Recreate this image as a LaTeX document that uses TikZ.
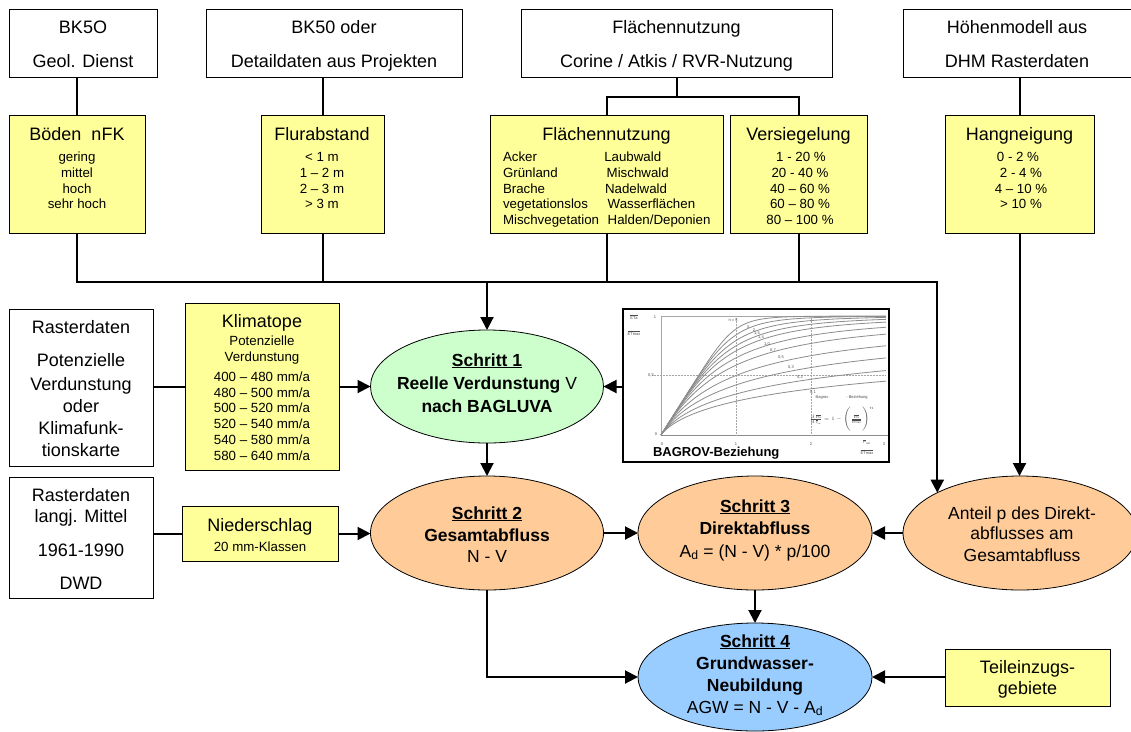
\documentclass[tikz,border=0pt]{standalone}
\usepackage{fontspec}
\setmainfont{Liberation Sans}
\usetikzlibrary{arrows.meta,shapes.geometric}
\definecolor{yel}{HTML}{FFFF99}
\definecolor{grn}{HTML}{CCFFCC}
\definecolor{pch}{HTML}{FFCC99}
\definecolor{blu}{HTML}{99CCFF}
\newcommand\FBig{\fontsize{18}{20}\selectfont}
\newcommand\FSmall{\fontsize{13.3}{15}\selectfont}
\newcommand\FEll{\fontsize{17.5}{20}\selectfont}
\newcommand\FTiny{\fontsize{4}{5}\selectfont}
\begin{document}
\begin{tikzpicture}[x=1pt,y=-1pt,line join=miter,
  box/.style={draw=black,line width=0.8pt,inner sep=0pt,outer sep=0pt,rectangle},
  wbox/.style={box,fill=white},
  ybox/.style={box,fill=yel},
  ell/.style={ellipse,draw=black,line width=0.8pt,inner sep=0pt,outer sep=0pt},
  conn/.style={line width=2pt},
  arr/.style={conn,-{Triangle[length=13pt,width=13pt]}},
  tx/.style={anchor=base,inner sep=0pt,outer sep=0pt},
  txl/.style={anchor=base west,inner sep=0pt,outer sep=0pt},
  tiny/.style={inner sep=0pt,outer sep=0pt,font=\FTiny,text=black!70}]
\useasboundingbox (0,0) rectangle (1131,731);

% ---------- boxes ----------
\node[wbox,minimum width=148pt,minimum height=68pt] (bk5o) at (83,43) {};
\node[wbox,minimum width=256pt,minimum height=68pt] (bk50) at (334,43) {};
\node[wbox,minimum width=311pt,minimum height=68pt] (flaetop) at (676.5,43) {};
\node[wbox,minimum width=232pt,minimum height=68pt] (hoehe) at (1019,43) {};

\node[ybox,minimum width=136pt,minimum height=118pt] (boeden) at (77,174) {};
\node[ybox,minimum width=123pt,minimum height=118pt] (flur) at (322.5,174) {};
\node[ybox,minimum width=233pt,minimum height=118pt] (flae) at (606.5,174) {};
\node[ybox,minimum width=137pt,minimum height=118pt] (vers) at (798.5,174) {};
\node[ybox,minimum width=149pt,minimum height=118pt] (hang) at (1019.5,174) {};

\node[wbox,minimum width=144pt,minimum height=157pt] (ras1) at (81,387.5) {};
\node[ybox,minimum width=154pt,minimum height=167pt] (klima) at (262,386.5) {};
\node[wbox,minimum width=144pt,minimum height=121pt] (ras2) at (81,537.5) {};
\node[ybox,minimum width=156pt,minimum height=55pt] (nied) at (260,533.5) {};
\node[ybox,minimum width=165pt,minimum height=57pt] (teil) at (1027.5,677.5) {};
\node[box,fill=white,line width=2pt,minimum width=266pt,minimum height=153pt] (bagrov) at (756,385.5) {};

% ---------- ellipses ----------
\node[ell,fill=grn,minimum width=233pt,minimum height=113pt] (s1) at (487,386.5) {};
\node[ell,fill=pch,minimum width=233pt,minimum height=114pt] (s2) at (487,533) {};
\node[ell,fill=pch,minimum width=234pt,minimum height=114pt] (s3) at (755,533) {};
\node[ell,fill=pch,minimum width=234pt,minimum height=114pt] (ant) at (1020,533) {};
\node[ell,fill=blu,minimum width=234pt,minimum height=108pt] (s4) at (755,677) {};

% ---------- texts of top boxes ----------
\node[tx] (bk5oa) at (83,33) {\FBig BK5O};
\node[tx] (bk5ob) at (83,67) {\FBig Geol. Dienst};
\node[tx] (bk50a) at (334,33) {\FBig BK50 oder};
\node[tx] (bk50b) at (334,67) {\FBig Detaildaten aus Projekten};
\node[tx] (flta) at (676.5,33) {\FBig Flächennutzung};
\node[tx] (fltb) at (676.5,67) {\FBig Corine / Atkis / RVR-Nutzung};
\node[tx] (hoa) at (1017,33) {\FBig Höhenmodell aus};
\node[tx] (hob) at (1017,67) {\FBig DHM Rasterdaten};

% ---------- yellow boxes ----------
\node[tx] (boa) at (77,140) {\FBig Böden~~nFK};
\node[tx] (bo1) at (77,161) {\FSmall gering};
\node[tx] (bo2) at (77,177) {\FSmall mittel};
\node[tx] (bo3) at (77,193) {\FSmall hoch};
\node[tx] (bo4) at (77,208) {\FSmall sehr hoch};

\node[tx] (fua) at (322,140) {\FBig Flurabstand};
\node[tx] (fu1) at (322,161) {\FSmall < 1 m};
\node[tx] (fu2) at (322,177) {\FSmall 1 – 2 m};
\node[tx] (fu3) at (322,193) {\FSmall 2 – 3 m};
\node[tx] (fu4) at (322,208) {\FSmall > 3 m};

\node[tx] (fna) at (606.5,140) {\FBig Flächennutzung};
\node[txl] (fn1) at (503,161) {\FSmall Acker};
\node[txl] (fn2) at (503,177) {\FSmall Grünland};
\node[txl] (fn3) at (503,193) {\FSmall Brache};
\node[txl] (fn4) at (503,208) {\FSmall vegetationslos};
\node[txl] (fn5) at (503,224) {\FSmall Mischvegetation};
\node[txl] (fn6) at (604.3,161) {\FSmall Laubwald};
\node[txl] (fn7) at (606.7,177) {\FSmall Mischwald};
\node[txl] (fn8) at (605,193) {\FSmall Nadelwald};
\node[txl] (fn9) at (607.7,208) {\FSmall Wasserflächen};
\node[txl] (fn10) at (607.7,224) {\FSmall Halden/Deponien};

\node[tx] (vea) at (798.5,140) {\FBig Versiegelung};
\node[tx] (ve1) at (801,161) {\FSmall 1 - 20 \%};
\node[tx] (ve2) at (800,177) {\FSmall 20 - 40 \%};
\node[tx] (ve3) at (800,193) {\FSmall 40 – 60 \%};
\node[tx] (ve4) at (800,208) {\FSmall 60 – 80 \%};
\node[tx] (ve5) at (800,224) {\FSmall 80 – 100 \%};

\node[tx] (haa) at (1019.5,140) {\FBig Hangneigung};
\node[tx] (ha1) at (1018,161) {\FSmall 0 - 2 \%};
\node[tx] (ha2) at (1021,177) {\FSmall 2 - 4 \%};
\node[tx] (ha3) at (1021,193) {\FSmall 4 – 10 \%};
\node[tx] (ha4) at (1021,208) {\FSmall > 10 \%};

% ---------- left column ----------
\node[tx] (r1a) at (81,333) {\FBig Rasterdaten};
\node[tx] (r1b) at (81,366) {\FBig Potenzielle};
\node[tx] (r1c) at (81,390) {\FBig Verdunstung};
\node[tx] (r1d) at (81,412) {\FBig oder};
\node[tx] (r1e) at (81,434) {\FBig Klimafunk-};
\node[tx] (r1f) at (81,456) {\FBig tionskarte};

\node[tx] (kla) at (262,327) {\FBig Klimatope};
\node[tx] (klb) at (262,345) {\FSmall Potenzielle};
\node[tx] (klc) at (262,361) {\FSmall Verdunstung};
\node[tx] (kl1) at (262,381) {\FSmall 400 – 480 mm/a};
\node[tx] (kl2) at (262,397) {\FSmall 480 – 500 mm/a};
\node[tx] (kl3) at (262,412) {\FSmall 500 – 520 mm/a};
\node[tx] (kl4) at (262,428) {\FSmall 520 – 540 mm/a};
\node[tx] (kl5) at (262,444) {\FSmall 540 – 580 mm/a};
\node[tx] (kl6) at (262,460) {\FSmall 580 – 640 mm/a};

\node[tx] (r2a) at (81,501) {\FBig Rasterdaten};
\node[tx] (r2b) at (81,522) {\FBig langj. Mittel};
\node[tx] (r2c) at (81,556) {\FBig 1961-1990};
\node[tx] (r2d) at (81,589) {\FBig DWD};

\node[tx] (nia) at (260,531) {\FBig Niederschlag};
\node[tx] (nib) at (260,551) {\FSmall 20 mm-Klassen};

\node[tx] (tea) at (1027.5,673) {\FBig Teileinzugs-};
\node[tx] (teb) at (1027.5,694) {\FBig gebiete};

% ---------- ellipse texts ----------
\node[tx] (s1a) at (487,366) {\FEll\bfseries\underline{Schritt 1}};
\node[tx] (s1b) at (487,389) {\FEll\bfseries Reelle Verdunstung \mdseries V};
\node[tx] (s1c) at (487,412) {\FEll\bfseries nach BAGLUVA};

\node[tx] (s2a) at (487,519) {\FEll\bfseries\underline{Schritt 2}};
\node[tx] (s2b) at (487,541) {\FEll\bfseries Gesamtabfluss};
\node[tx] (s2c) at (487,562) {\FEll N - V};

\node[tx] (s3a) at (755,512) {\FEll\bfseries\underline{Schritt 3}};
\node[tx] (s3b) at (755,534) {\FEll\bfseries Direktabfluss};
\node[tx] (s3c) at (755,557) {\FEll A\textsubscript{d} = (N - V) * p/100};

\node[tx] (ana) at (1022,519) {\FEll Anteil p des Direkt-};
\node[tx] (anb) at (1022,539) {\FEll abflusses am};
\node[tx] (anc) at (1022,561) {\FEll Gesamtabfluss};

\node[tx] (s4a) at (755,647) {\FEll\bfseries\underline{Schritt 4}};
\node[tx] (s4b) at (755,669) {\FEll\bfseries Grundwasser-};
\node[tx] (s4c) at (755,691) {\FEll\bfseries Neubildung};
\node[tx] (s4d) at (755,713) {\FEll AGW = N - V - A\textsubscript{d}};

% ---------- BAGROV chart ----------
\begin{scope}[shift={(661,435)},x=75pt,y=119pt]
  \draw[black!35,line width=0.5pt] (0,0) -- (0,1) -- (3,1);
  \draw[black!45,line width=0.6pt] (0,0) -- (3.02,0);
  \draw[black!35,line width=0.5pt,densely dotted] (1,0) -- (1,1) (2,0) -- (2,1) (-0.12,0.5) -- (3,0.5);
  \foreach \m in {6,4,3,2.4,2,1.6,1.3,1,0.8,0.65,0.55}
    \draw[black!45,line width=0.8pt] (0,0) -- plot[domain=0.02:3,samples=45,smooth] (\x,{\x/(1+\x^\m)^(1/\m)});
\end{scope}
\node[tiny] (cy1) at (655,317) {1};
\node[tiny] (cy5) at (651,375) {0,5};
\node[tiny] (cy0) at (656,434) {0};
\node[tiny] (cx0) at (662,444) {0};
\node[tiny] (cx1) at (736,444) {1};
\node[tiny] (cx2) at (811,444) {2};
\node[tiny] (cx3) at (884,444) {3};
\node[tiny] (yla) at (634,317) {$\overline{\mathrm{ETa}}$};
\node[tiny] (ylb) at (634,333) {$\overline{\mathrm{ETmax}}$};
\node[tiny] (xla) at (867,442) {$\overline{\mathrm{P}}_{\mathrm{nat}}$};
\node[tiny] (xlb) at (867,452) {$\overline{\mathrm{ETmax}}$};
\node[tiny] (ln1) at (733,320) {n = 5};
\node[tiny] (ln2) at (748,327) {3};
\node[tiny] (ln3) at (754,330) {2};
\node[tiny] (ln4) at (757,333) {1,5};
\node[tiny] (ln5) at (761,337) {1,4};
\node[tiny] (ln6) at (767,344) {1,0};
\node[tiny] (ln7) at (773,350) {0,7};
\node[tiny] (ln8) at (781,357) {0,5};
\node[tiny] (ln9) at (791,367) {0,3};
\node[tiny] (ln10) at (800,377) {0,2};
\node[tiny] (ln11) at (813,392) {0,1};
\node[tiny] (fo1) at (822,398) {Bagrov};
\node[tiny] (fo2) at (857,397) {- Beziehung};
\node[tiny] (fo3) at (842,419) {$\frac{d\,\overline{\mathrm{ETa}}}{d\,\overline{\mathrm{P}}_{\mathrm{nat}}}=1-\Bigl(\frac{\overline{\mathrm{ETa}}}{\overline{\mathrm{ETmax}}}\Bigr)^{n}$};
\node[txl] (bgt) at (653,456) {\fontsize{13}{15}\selectfont\bfseries BAGROV-Beziehung};

% ---------- connectors ----------
\coordinate (bus) at (0,282);
\coordinate (fork) at ([yshift=-20pt]flaetop.south);
\draw[conn] (bk5o.south -| boeden.north) -- (boeden.north);
\draw[conn] (bk50.south -| flur.north) -- (flur.north);
\draw[conn] (flaetop.south) -- (fork);
\draw[conn] (flae.north) |- (fork) -| (vers.north);
\draw[conn] (hoehe.south -| hang.north) -- (hang.north);

\draw[arr] (boeden.south) |- (ant.north west |- bus) -- (ant.north west);
\draw[conn] (flur.south) -- (flur.south |- bus);
\draw[conn] (flae.south) -- (flae.south |- bus);
\draw[conn] (vers.south) -- (vers.south |- bus);
\draw[arr] (s1.north |- bus) -- (s1.north);
\draw[arr] (hang.south) -- (hang.south |- ant.north);

\draw[conn] (ras1.east |- klima.west) -- (klima.west);
\draw[arr] (klima.east |- s1.west) -- (s1.west);
\draw[arr] (bagrov.west |- s1.east) -- (s1.east);
\draw[arr] (s1.south) -- (s2.north);
\draw[conn] (ras2.east |- nied.west) -- (nied.west);
\draw[arr] (nied.east) -- (nied.east -| s2.west);
\draw[arr] (s2.east) -- (s3.west);
\draw[arr] (ant.west) -- (s3.east);
\draw[arr] (s3.south) -- (s4.north);
\draw[arr] (s2.south) |- (s4.west);
\draw[arr] (teil.west |- s4.east) -- (s4.east);
\end{tikzpicture}
\end{document}
